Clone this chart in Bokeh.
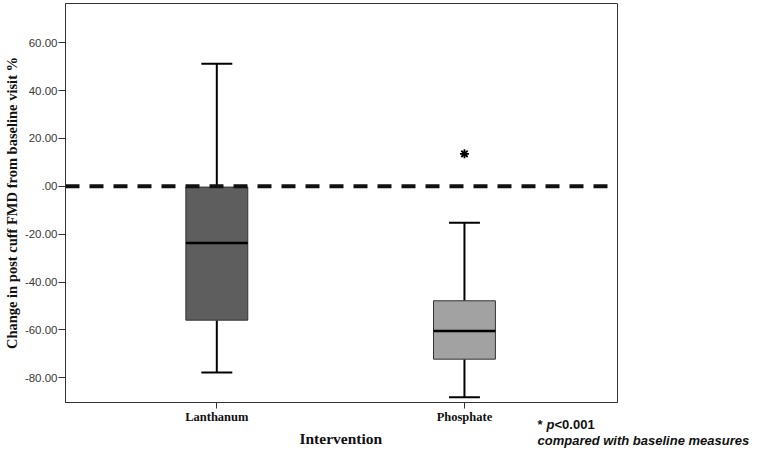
from bokeh.plotting import figure
from bokeh.models import Span, Label, FixedTicker, Range1d
from bokeh.embed import file_html
from bokeh.resources import INLINE

# ---- data ----
categories = ["Lanthanum", "Phosphate"]
lower_whisker = [-77.8, -88.1]
q1 = [-55.9, -72.2]
median = [-23.7, -60.4]
q3 = [-0.3, -47.8]
upper_whisker = [51.2, -15.2]
outlier_group = ["Phosphate"]
outlier_value = [13.6]
box_colors = ["#5e5e5e", "#a2a2a2"]
y_ticks = [-80, -60, -40, -20, 0, 20, 40, 60]
y_tick_labels = ["-80.00", "-60.00", "-40.00", "-20.00", ".00", "20.00", "40.00", "60.00"]
reference_value = 0

xs = [i + 1 for i in range(len(categories))]
pos = dict(zip(categories, xs))
box_w = 0.25
cap_w = 0.125

p = figure(width=760, height=451,
           x_range=Range1d(0.389, 2.618), y_range=Range1d(-90.3, 76.4),
           output_backend="svg", toolbar_location=None,
           min_border_left=65, min_border_right=143,
           min_border_top=3, min_border_bottom=49)

p.xgrid.visible = False
p.ygrid.visible = False
p.outline_line_color = "#333333"
p.outline_line_width = 1
p.background_fill_color = "white"
p.border_fill_color = "white"

# whiskers
p.segment(x0=xs, y0=q3, x1=xs, y1=upper_whisker, line_color="black", line_width=2)
p.segment(x0=xs, y0=q1, x1=xs, y1=lower_whisker, line_color="black", line_width=2)
# caps
p.segment(x0=[x - cap_w / 2 for x in xs], y0=upper_whisker,
          x1=[x + cap_w / 2 for x in xs], y1=upper_whisker, line_color="black", line_width=2)
p.segment(x0=[x - cap_w / 2 for x in xs], y0=lower_whisker,
          x1=[x + cap_w / 2 for x in xs], y1=lower_whisker, line_color="black", line_width=2)
# boxes
p.vbar(x=xs, bottom=q1, top=q3, width=box_w, fill_color=box_colors,
       line_color="#333333", line_width=1)
# medians
p.segment(x0=[x - box_w / 2 for x in xs], y0=median,
          x1=[x + box_w / 2 for x in xs], y1=median, line_color="black", line_width=2.5)
# outlier
p.scatter(x=[pos[g] for g in outlier_group], y=outlier_value, marker="asterisk",
          size=9, line_color="black", line_width=1.8)

# reference line
p.add_layout(Span(location=reference_value, dimension="width", line_color="#111111",
                  line_width=4, line_dash="14 10"))

# axes
p.yaxis.ticker = FixedTicker(ticks=y_ticks)
p.yaxis.major_label_overrides = dict(zip(y_ticks, y_tick_labels))
p.yaxis.major_label_text_font = "Liberation Sans"
p.yaxis.major_label_text_font_size = "11.5px"
p.yaxis.major_label_text_color = "#3a3a3a"
p.yaxis.major_tick_out = 7
p.yaxis.major_tick_in = 0
p.yaxis.minor_tick_out = 0
p.yaxis.minor_tick_in = 0
p.yaxis.major_label_standoff = 1
p.yaxis.axis_line_color = "#333333"
p.yaxis.major_tick_line_color = "#333333"
p.yaxis.axis_label = "Change in post cuff FMD from baseline visit %"
p.yaxis.axis_label_text_font = "Liberation Serif"
p.yaxis.axis_label_text_font_style = "bold"
p.yaxis.axis_label_text_font_size = "14.5px"
p.yaxis.axis_label_text_color = "#111111"
p.yaxis.axis_label_standoff = 2

p.xaxis.ticker = FixedTicker(ticks=xs)
p.xaxis.major_label_overrides = dict(zip(xs, categories))
p.xaxis.major_label_text_font = "Liberation Serif"
p.xaxis.major_label_text_font_style = "bold"
p.xaxis.major_label_text_font_size = "12.5px"
p.xaxis.major_label_text_color = "#111111"
p.xaxis.major_tick_out = 6
p.xaxis.major_tick_in = 0
p.xaxis.minor_tick_out = 0
p.xaxis.minor_tick_in = 0
p.xaxis.major_label_standoff = 1
p.xaxis.axis_line_color = "#333333"
p.xaxis.major_tick_line_color = "#333333"

# texts outside the frame (side panels are not clipped)
sans = dict(x_units="screen", y_units="screen", text_font="Liberation Sans",
            text_font_size="13px", text_color="#111111", text_baseline="middle")
p.add_layout(Label(x=-80, y=-21.5, text="* ", text_font_style="bold", **sans), "right")
p.add_layout(Label(x=-80, y=-21.5, text="p", text_font_style="bold italic", **sans), "right")
p.add_layout(Label(x=-80, y=-21.5, text="<0.001", text_font_style="bold", **sans), "right")
p.add_layout(Label(x=-333.7, y=-35.5, x_units="screen", y_units="screen", text="Intervention",
                   text_font="Liberation Serif", text_font_style="bold", text_font_size="15.5px",
                   text_color="#111111", text_align="center", text_baseline="middle"), "right")
p.add_layout(Label(x=472, y=1.5, text="compared with baseline measures",
                   text_font_style="bold italic", **sans), "below")

open("out.html", "w").write(file_html(p, INLINE))
